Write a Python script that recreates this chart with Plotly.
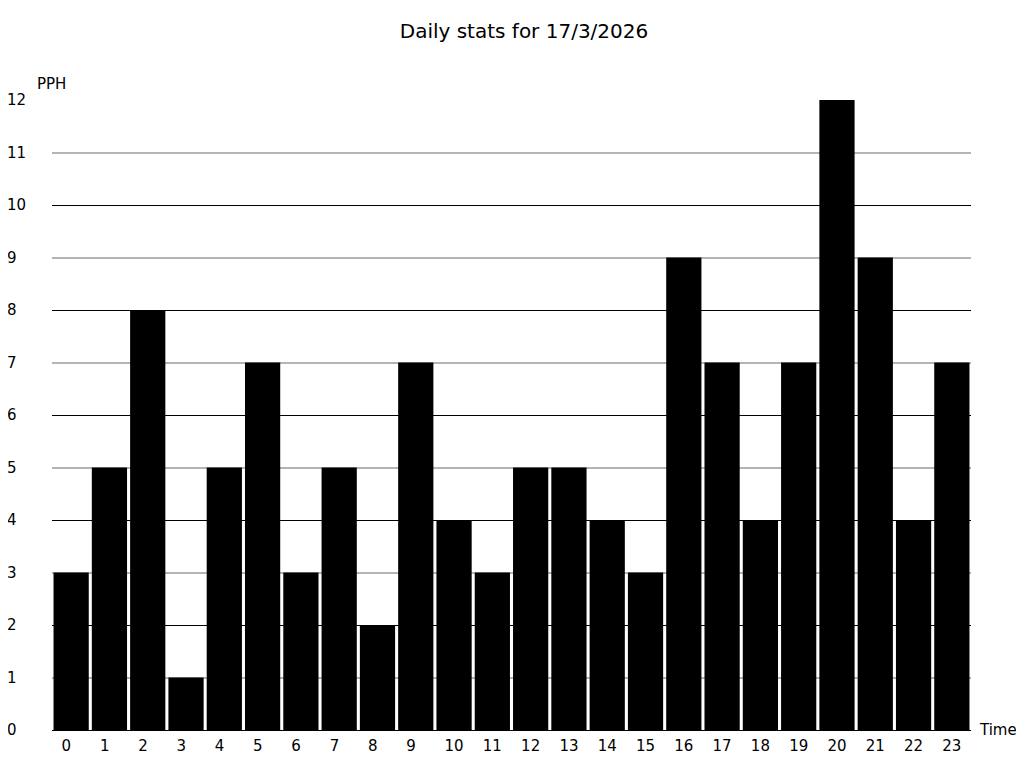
import plotly.graph_objects as go

hours = list(range(24))
pph = [3, 5, 8, 1, 5, 7, 3, 5, 2, 7, 4, 3, 5, 5, 4, 3, 9, 7, 4, 7, 12, 9, 4, 7]
title_text = "Daily stats for 17/3/2026"
y_label = "PPH"
x_label = "Time"
y_ticks = list(range(0, 13))
even_grid = [v for v in y_ticks if v % 2 == 0 and v > 0]
odd_grid = [v for v in y_ticks if v % 2 == 1]

NB = "\u00a0"
def pad(v):
    s = str(v)
    return s + NB * 2 if len(s) == 1 else s

fig = go.Figure()
fig.add_trace(go.Bar(x=hours, y=pph, marker=dict(color="black", line=dict(width=0))))
fig.add_trace(go.Scatter(x=[], y=[], yaxis="y2", showlegend=False))
fig.add_trace(go.Scatter(x=[], y=[], yaxis="y3", showlegend=False))

font = "DejaVu Sans, sans-serif"
W, H = 1016, 760
L, T = 44, 92
R, B = W - 963, H - 722
pw, ph = W - L - R, H - T - B
fig.update_layout(
    width=W, height=H,
    margin=dict(l=L, r=R, t=T, b=B, autoexpand=False),
    paper_bgcolor="white", plot_bgcolor="white",
    bargap=0.08,
    showlegend=False,
    font=dict(family=font, size=16, color="black"),
    title=dict(text=title_text, x=(524 - 8) / W, xanchor="center", y=1 - 23 / H, yanchor="middle",
               font=dict(family=font, size=20, color="black")),
    xaxis=dict(range=[-0.5, 23.5], tickmode="array", tickvals=hours, ticktext=[pad(h) for h in hours],
               showgrid=False, zeroline=False, showline=True, linecolor="black", linewidth=1,
               ticks="", ticklabelstandoff=2, tickfont=dict(size=15), automargin=False),
    yaxis=dict(range=[0, 12], tickmode="array", tickvals=y_ticks, ticktext=[pad(v) for v in y_ticks],
               showgrid=False, zeroline=False, showline=False, ticks="", ticklabelstandoff=25,
               tickfont=dict(size=15), automargin=False),
    yaxis2=dict(range=[0, 12], overlaying="y", tickmode="array", tickvals=even_grid,
                showgrid=True, gridcolor="black", gridwidth=1, showticklabels=False,
                zeroline=False, showline=False, ticks="", automargin=False),
    yaxis3=dict(range=[0, 12], overlaying="y", tickmode="array", tickvals=odd_grid,
                showgrid=True, gridcolor="#b4b4b4", gridwidth=2, showticklabels=False,
                zeroline=False, showline=False, ticks="", automargin=False),
    annotations=[
        dict(text=y_label, x=-17 / pw, y=(722 - 76) / ph, xref="paper", yref="paper", showarrow=False,
             xanchor="left", yanchor="middle", font=dict(size=15)),
        dict(text=x_label, x=(969 - L) / pw, y=0, xref="paper", yref="paper", showarrow=False,
             xanchor="left", yanchor="middle", font=dict(size=15)),
    ],
)

fig.write_html("out.html")
